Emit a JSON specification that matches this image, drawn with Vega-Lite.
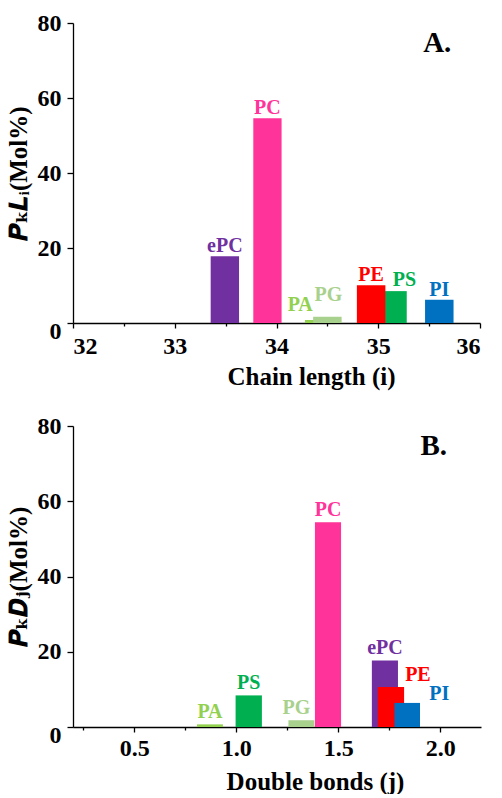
{
  "$schema": "https://vega.github.io/schema/vega-lite/v6.json",
  "padding": {"left": 6, "top": 11, "right": 5, "bottom": 0},
  "background": "white",
  "config": {
    "view": {"stroke": null},
    "font": "Liberation Serif",
    "axis": {
      "grid": false,
      "domainColor": "#000000",
      "domainWidth": 1.3,
      "tickColor": "#000000",
      "tickWidth": 1.3,
      "labelFont": "Liberation Serif",
      "labelFontWeight": "bold",
      "labelFontSize": 24,
      "labelColor": "#000000",
      "labelPadding": 3,
      "titleFont": "Liberation Serif, DejaVu Serif",
      "titleFontWeight": "bold",
      "titleFontSize": 25,
      "titleColor": "#000000"
    },
    "concat": {"spacing": 25}
  },
  "resolve": {"scale": {"x": "independent", "y": "independent"}},
  "vconcat": [
    {
      "width": 407,
      "height": 300,
      "data": {"values": [
        {"name": "ePC", "start": 33.353, "end": 33.632, "value": 17.8},
        {"name": "PC", "start": 33.772, "end": 34.05, "value": 54.6},
        {"name": "PA", "start": 34.28, "end": 34.56, "value": 0.8},
        {"name": "PG", "start": 34.36, "end": 34.64, "value": 1.7},
        {"name": "PS", "start": 35.0, "end": 35.28, "value": 8.5},
        {"name": "PE", "start": 34.79, "end": 35.07, "value": 10.1},
        {"name": "PI", "start": 35.46, "end": 35.74, "value": 6.2}
      ]},
      "layer": [
        {
          "mark": {"type": "bar"},
          "encoding": {
            "x": {"field": "start", "type": "quantitative", "title": "Chain length (i)",
              "scale": {"domain": [32, 36], "nice": false, "zero": false},
              "axis": {
                "values": [32, 32.5, 33, 33.5, 34, 34.5, 35, 35.5, 36],
                "labelExpr": "datum.value % 1 === 0 ? format(datum.value, 'd') : ''",
                "tickSize": {"condition": {"test": "datum.value % 1 === 0", "value": 5}, "value": 3},
                "labelPadding": 6,
                "titleX": 238, "titlePadding": 6
              }},
            "x2": {"field": "end"},
            "y": {"field": "value", "type": "quantitative", "title": "𝑷ₖ𝑳ᵢ(Mol%)",
              "scale": {"domain": [0, 80], "nice": false},
              "axis": {
                "values": [0, 10, 20, 30, 40, 50, 60, 70, 80],
                "labelExpr": "datum.value % 20 === 0 ? datum.label : ''",
                "tickSize": {"condition": {"test": "datum.value % 20 === 0", "value": 6}, "value": 3},
                "labelOffset": {"condition": {"test": "datum.value === 0", "value": 8}, "value": 0},
                "labelPadding": 6,
                "titlePadding": 6
              }},
            "y2": {"datum": 0},
            "color": {"field": "name", "type": "nominal", "legend": null,
              "scale": {"domain": ["ePC", "PC", "PA", "PG", "PE", "PS", "PI"],
                        "range": ["#7030A0", "#FF3399", "#92D050", "#A9D18E", "#FF0000", "#00B050", "#0070C0"]}}
          }
        },
        {
          "transform": [{"calculate": "(datum.start + datum.end) / 2", "as": "mid"},
                        {"filter": "indexof(['ePC','PC','PE','PI'], datum.name) >= 0"}],
          "mark": {"type": "text", "font": "Liberation Serif", "fontWeight": "bold", "fontSize": 20, "baseline": "alphabetic", "align": "center", "dy": -4},
          "encoding": {
            "x": {"field": "mid", "type": "quantitative", "title": "Chain length (i)"},
            "y": {"field": "value", "type": "quantitative", "title": "𝑷ₖ𝑳ᵢ(Mol%)"},
            "text": {"field": "name"},
            "color": {"field": "name", "type": "nominal", "legend": null}
          }
        },
        {
          "transform": [{"calculate": "(datum.start + datum.end) / 2", "as": "mid"},
                        {"filter": "datum.name === 'PA'"}],
          "mark": {"type": "text", "font": "Liberation Serif", "fontWeight": "bold", "fontSize": 20, "baseline": "alphabetic", "align": "center", "dx": -19, "dy": -9},
          "encoding": {
            "x": {"field": "mid", "type": "quantitative", "title": "Chain length (i)"},
            "y": {"field": "value", "type": "quantitative", "title": "𝑷ₖ𝑳ᵢ(Mol%)"},
            "text": {"field": "name"},
            "color": {"field": "name", "type": "nominal", "legend": null}
          }
        },
        {
          "transform": [{"calculate": "(datum.start + datum.end) / 2", "as": "mid"},
                        {"filter": "datum.name === 'PG'"}],
          "mark": {"type": "text", "font": "Liberation Serif", "fontWeight": "bold", "fontSize": 20, "baseline": "alphabetic", "align": "center", "dx": 1, "dy": -16},
          "encoding": {
            "x": {"field": "mid", "type": "quantitative", "title": "Chain length (i)"},
            "y": {"field": "value", "type": "quantitative", "title": "𝑷ₖ𝑳ᵢ(Mol%)"},
            "text": {"field": "name"},
            "color": {"field": "name", "type": "nominal", "legend": null}
          }
        },
        {
          "transform": [{"calculate": "(datum.start + datum.end) / 2", "as": "mid"},
                        {"filter": "datum.name === 'PS'"}],
          "mark": {"type": "text", "font": "Liberation Serif", "fontWeight": "bold", "fontSize": 20, "baseline": "alphabetic", "align": "center", "dx": 12, "dy": -5},
          "encoding": {
            "x": {"field": "mid", "type": "quantitative", "title": "Chain length (i)"},
            "y": {"field": "value", "type": "quantitative", "title": "𝑷ₖ𝑳ᵢ(Mol%)"},
            "text": {"field": "name"},
            "color": {"field": "name", "type": "nominal", "legend": null}
          }
        },
        {
          "data": {"values": [{"panel": "A."}]},
          "mark": {"type": "text", "font": "Liberation Serif", "fontWeight": "bold", "fontSize": 29, "baseline": "alphabetic", "align": "center", "color": "#000000"},
          "encoding": {
            "x": {"datum": 35.58, "type": "quantitative"},
            "y": {"datum": 72.3, "type": "quantitative"},
            "text": {"field": "panel"}
          }
        }
      ]
    },
    {
      "width": 408,
      "height": 301,
      "data": {"values": [
        {"name": "PA", "start": 0.808, "end": 0.935, "value": 0.7},
        {"name": "PS", "start": 0.997, "end": 1.126, "value": 8.4},
        {"name": "PG", "start": 1.256, "end": 1.383, "value": 1.8},
        {"name": "PC", "start": 1.386, "end": 1.514, "value": 54.4},
        {"name": "ePC", "start": 1.665, "end": 1.793, "value": 17.7},
        {"name": "PE", "start": 1.694, "end": 1.823, "value": 10.6},
        {"name": "PI", "start": 1.776, "end": 1.901, "value": 6.4}
      ]},
      "layer": [
        {
          "mark": {"type": "bar"},
          "encoding": {
            "x": {"field": "start", "type": "quantitative", "title": "Double bonds (j)",
              "scale": {"domain": [0.2, 2.2], "nice": false, "zero": false},
              "axis": {
                "values": [0.25, 0.5, 0.75, 1.0, 1.25, 1.5, 1.75, 2.0],
                "labelExpr": "abs(datum.value * 2 - round(datum.value * 2)) < 0.001 ? format(datum.value, '.1f') : ''",
                "tickSize": {"condition": {"test": "abs(datum.value * 2 - round(datum.value * 2)) < 0.001", "value": 5}, "value": 3},
                "labelPadding": 4,
                "titleX": 242, "titlePadding": 9
              }},
            "x2": {"field": "end"},
            "y": {"field": "value", "type": "quantitative", "title": "𝑷ₖ𝑫ⱼ(Mol%)",
              "scale": {"domain": [0, 80], "nice": false},
              "axis": {
                "values": [0, 10, 20, 30, 40, 50, 60, 70, 80],
                "labelExpr": "datum.value % 20 === 0 ? datum.label : ''",
                "tickSize": {"condition": {"test": "datum.value % 20 === 0", "value": 6}, "value": 3},
                "labelOffset": {"condition": {"test": "datum.value === 0", "value": 8}, "value": 0},
                "labelPadding": 6,
                "titlePadding": 6
              }},
            "y2": {"datum": 0},
            "color": {"field": "name", "type": "nominal", "legend": null,
              "scale": {"domain": ["ePC", "PC", "PA", "PG", "PE", "PS", "PI"],
                        "range": ["#7030A0", "#FF3399", "#92D050", "#A9D18E", "#FF0000", "#00B050", "#0070C0"]}}
          }
        },
        {
          "transform": [{"calculate": "(datum.start + datum.end) / 2", "as": "mid"},
                        {"filter": "indexof(['PA','PS','PC','ePC'], datum.name) >= 0"}],
          "mark": {"type": "text", "font": "Liberation Serif", "fontWeight": "bold", "fontSize": 20, "baseline": "alphabetic", "align": "center", "dy": -6},
          "encoding": {
            "x": {"field": "mid", "type": "quantitative", "title": "Double bonds (j)"},
            "y": {"field": "value", "type": "quantitative", "title": "𝑷ₖ𝑫ⱼ(Mol%)"},
            "text": {"field": "name"},
            "color": {"field": "name", "type": "nominal", "legend": null}
          }
        },
        {
          "transform": [{"calculate": "(datum.start + datum.end) / 2", "as": "mid"},
                        {"filter": "datum.name === 'PG'"}],
          "mark": {"type": "text", "font": "Liberation Serif", "fontWeight": "bold", "fontSize": 20, "baseline": "alphabetic", "align": "center", "dx": -5, "dy": -6},
          "encoding": {
            "x": {"field": "mid", "type": "quantitative", "title": "Double bonds (j)"},
            "y": {"field": "value", "type": "quantitative", "title": "𝑷ₖ𝑫ⱼ(Mol%)"},
            "text": {"field": "name"},
            "color": {"field": "name", "type": "nominal", "legend": null}
          }
        },
        {
          "transform": [{"calculate": "(datum.start + datum.end) / 2", "as": "mid"},
                        {"filter": "datum.name === 'PE'"}],
          "mark": {"type": "text", "font": "Liberation Serif", "fontWeight": "bold", "fontSize": 20, "baseline": "alphabetic", "align": "center", "dx": 27, "dy": -6},
          "encoding": {
            "x": {"field": "mid", "type": "quantitative", "title": "Double bonds (j)"},
            "y": {"field": "value", "type": "quantitative", "title": "𝑷ₖ𝑫ⱼ(Mol%)"},
            "text": {"field": "name"},
            "color": {"field": "name", "type": "nominal", "legend": null}
          }
        },
        {
          "transform": [{"calculate": "(datum.start + datum.end) / 2", "as": "mid"},
                        {"filter": "datum.name === 'PI'"}],
          "mark": {"type": "text", "font": "Liberation Serif", "fontWeight": "bold", "fontSize": 20, "baseline": "alphabetic", "align": "center", "dx": 32, "dy": -3},
          "encoding": {
            "x": {"field": "mid", "type": "quantitative", "title": "Double bonds (j)"},
            "y": {"field": "value", "type": "quantitative", "title": "𝑷ₖ𝑫ⱼ(Mol%)"},
            "text": {"field": "name"},
            "color": {"field": "name", "type": "nominal", "legend": null}
          }
        },
        {
          "data": {"values": [{"panel": "B."}]},
          "mark": {"type": "text", "font": "Liberation Serif", "fontWeight": "bold", "fontSize": 29, "baseline": "alphabetic", "align": "center", "color": "#000000"},
          "encoding": {
            "x": {"datum": 1.968, "type": "quantitative"},
            "y": {"datum": 72.4, "type": "quantitative"},
            "text": {"field": "panel"}
          }
        }
      ]
    }
  ]
}
